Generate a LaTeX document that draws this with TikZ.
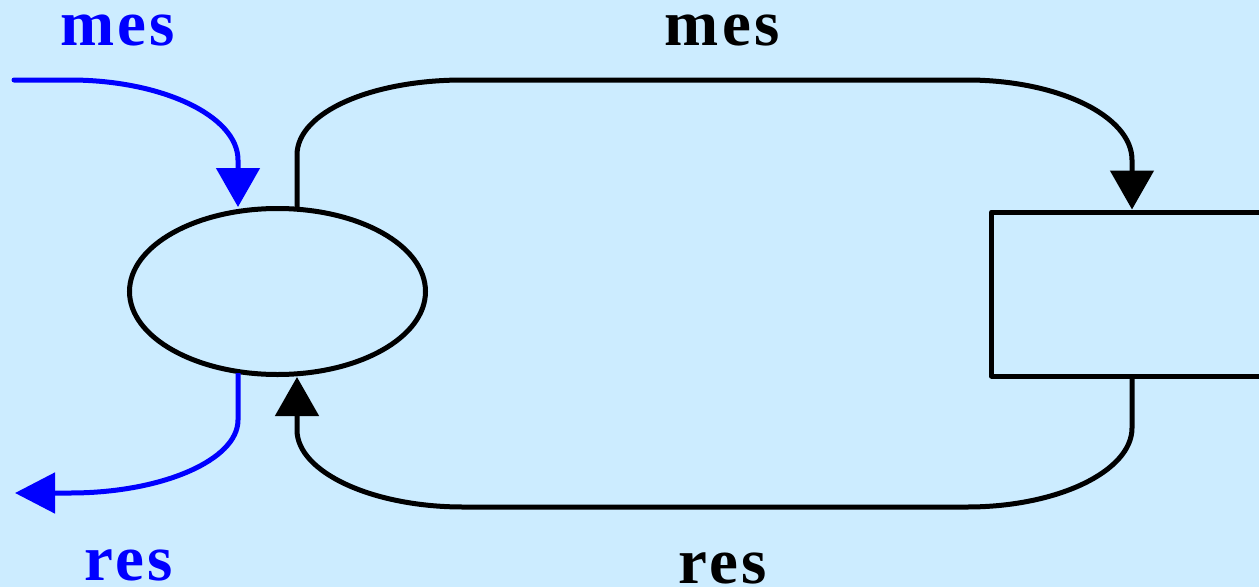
\documentclass[tikz,border=0pt]{standalone}
\usepackage{fontspec}
\setmainfont{Liberation Serif}
\newfontfamily\lblfont[LetterSpace=5]{Liberation Serif}
\usetikzlibrary{shapes.geometric,arrows.meta,calc}
\definecolor{bgblue}{RGB}{204,236,255}
\definecolor{flowblue}{RGB}{0,0,255}
\begin{document}
\begin{tikzpicture}[x=1pt,y=-1pt,
  wire/.style={line width=5pt,line join=round},
  lbl/.style={font=\lblfont\fontsize{65}{65}\selectfont\bfseries,anchor=base,inner sep=0pt},
  tipbig/.style={-{Triangle[length=39pt,width=43pt]}},
  tipside/.style={-{Triangle[length=40pt,width=40pt]}}]
\fill[bgblue] (0,0) rectangle (1259,587);
\useasboundingbox (0,0) rectangle (1259,587);
% shapes
\node[draw,ellipse,line width=5pt,minimum width=296pt,minimum height=166pt,inner sep=0pt] (e) at (277.5,291.5) {};
\node[draw,rectangle,line width=5pt,line join=round,minimum width=330pt,minimum height=164pt,inner sep=0pt,anchor=west] (r) at (989,294) {};
% free ends
\coordinate (bin) at (14,80);
\coordinate (bout) at (15,493);
% black top connector
\draw[wire,tipbig] ($(e.north)+(19.5,3)$) -- (297,155)
  .. controls (297,112) and (372,80) .. (463,80) -- (967,80)
  .. controls (1058,80) and (1132,116) .. (1132,160) -- (1132,0 |- r.north);
% black bottom connector
\draw[wire,tipbig] (1132,0 |- r.south) -- (1132,428)
  .. controls (1132,471) and (1058,507) .. (967,507) -- (463,507)
  .. controls (372,507) and (297,472) .. (297,430) -- ($(e.south)+(19.5,0)$);
% blue in
\draw[wire,flowblue,tipbig,line cap=round] (bin) -- (70,80)
  .. controls (162,80) and (238,116) .. (238,160) -- ($(e.north)+(-39.5,1)$);
% blue out
\draw[wire,flowblue,tipside] ($(e.south)+(-39.5,-4)$) -- (238,420)
  .. controls (238,460) and (162,493) .. (70,493) -- (bout);
% labels
\node[lbl,text=flowblue] (m1) at (117.5,45) {mes};
\node[lbl] (m2) at (722,45) {mes};
\node[lbl,text=flowblue] (r1) at (129,580) {res};
\node[lbl] (r2) at (722.5,583) {res};
\end{tikzpicture}
\end{document}
